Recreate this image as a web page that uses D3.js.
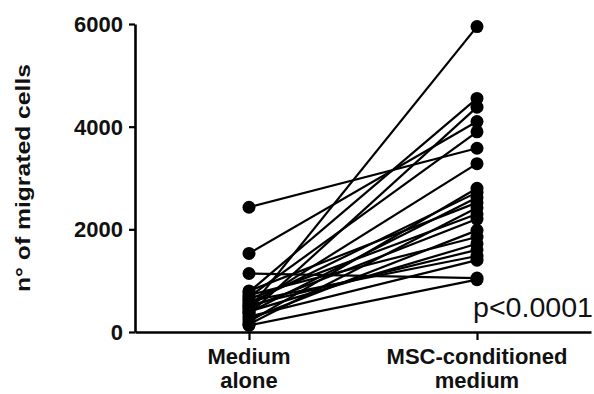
<!DOCTYPE html>
<html lang="en">
  <head>
    <meta charset="utf-8" />
    <title>Migrated cells</title>
    <script src="https://d3js.org/d3.v7.js"></script>
    <style>
      body { margin: 0; background: #fff; }
      text { font-family: "Liberation Sans", Arial, sans-serif; fill: #111; }
    </style>
  </head>
  <body>
    <script>

    // categories and paired values (one line per sample)
    var categories = ["Medium alone", "MSC-conditioned medium"];
    var mediumAlone = [2430, 1530, 1140, 800, 780, 720, 680, 640, 600, 560, 520, 500, 470, 440, 400, 380, 350, 300, 250, 200, 150, 130];
    var mscMedium   = [3580, 4100, 1050, 2520, 4550, 1850, 3900, 2300, 1480, 2720, 1600, 3280, 2200, 5950, 1720, 2620, 4380, 1400, 1980, 2800, 2420, 1020];
    var yTicks = [0, 2000, 4000, 6000];

    var w = 594, h = 394;

    var svg = d3.select("body")
      .append("svg")
        .attr("width", w)
        .attr("height", h);

    // scales
    var x = d3.scalePoint()
      .domain(categories)
      .range([135, 591])
      .padding(0.5);

    var y = d3.scaleLinear()
      .domain([0, 6000])
      .range([332, 24]);

    // lines + dots
    var pairs = mediumAlone.map((d, i) => [d, mscMedium[i]]);

    svg.append("g")
      .selectAll("line")
      .data(pairs)
      .join("line")
        .attr("x1", x(categories[0]))
        .attr("x2", x(categories[1]))
        .attr("y1", d => y(d[0]))
        .attr("y2", d => y(d[1]))
        .attr("stroke", "#000")
        .attr("stroke-width", 2.2);

    var dots = svg.append("g");
    categories.forEach(function(c, j) {
      dots.selectAll(null)
        .data(pairs)
        .join("circle")
          .attr("cx", x(c))
          .attr("cy", d => y(d[j]))
          .attr("r", 6.5)
          .attr("fill", "#000");
    });

    // y axis
    var yAxis = svg.append("g")
      .attr("transform", "translate(135,0)")
      .call(d3.axisLeft(y).tickValues(yTicks).tickFormat(d3.format("d"))
        .tickSize(6).tickSizeOuter(0).tickPadding(6));
    yAxis.select(".domain").attr("stroke", "#000").attr("stroke-width", 2.6);
    yAxis.selectAll(".tick line").attr("stroke", "#000").attr("stroke-width", 2.2);
    yAxis.selectAll(".tick text")
      .attr("font-size", 22)
      .attr("font-weight", "bold")
      .attr("font-family", "Liberation Sans, Arial, sans-serif")
      .attr("fill", "#111")
      .attr("dy", "0.34em");

    // x axis
    var xAxis = svg.append("g")
      .attr("transform", "translate(0,332)")
      .call(d3.axisBottom(x).tickSize(8).tickSizeOuter(0).tickFormat(""));
    xAxis.select(".domain").attr("stroke", "#000").attr("stroke-width", 2.6);
    xAxis.selectAll(".tick line").attr("stroke", "#000").attr("stroke-width", 2.2);

    var catLabels = {"Medium alone": ["Medium", "alone"], "MSC-conditioned medium": ["MSC-conditioned", "medium"]};
    categories.forEach(function(c) {
      var t = svg.append("text")
        .attr("text-anchor", "middle")
        .attr("font-family", "DejaVu Sans, Verdana, sans-serif")
        .attr("font-weight", "bold")
        .attr("font-size", 22)
        .attr("fill", "#222");
      catLabels[c].forEach(function(s, k) {
        t.append("tspan").attr("x", x(c)).attr("y", 364 + k * 24).text(s);
      });
    });

    // y label
    svg.append("text")
      .attr("transform", "translate(30,178) rotate(-90)")
      .attr("text-anchor", "middle")
      .attr("font-size", 21)
      .attr("font-weight", "bold")
      .attr("textLength", 228)
      .attr("lengthAdjust", "spacingAndGlyphs")
      .text("n° of migrated cells");

    // p value
    svg.append("text")
      .attr("x", 473)
      .attr("y", 317)
      .attr("font-size", 27)
      .attr("textLength", 120)
      .attr("lengthAdjust", "spacingAndGlyphs")
      .text("p<0.0001");

    </script>
  </body>
</html>
